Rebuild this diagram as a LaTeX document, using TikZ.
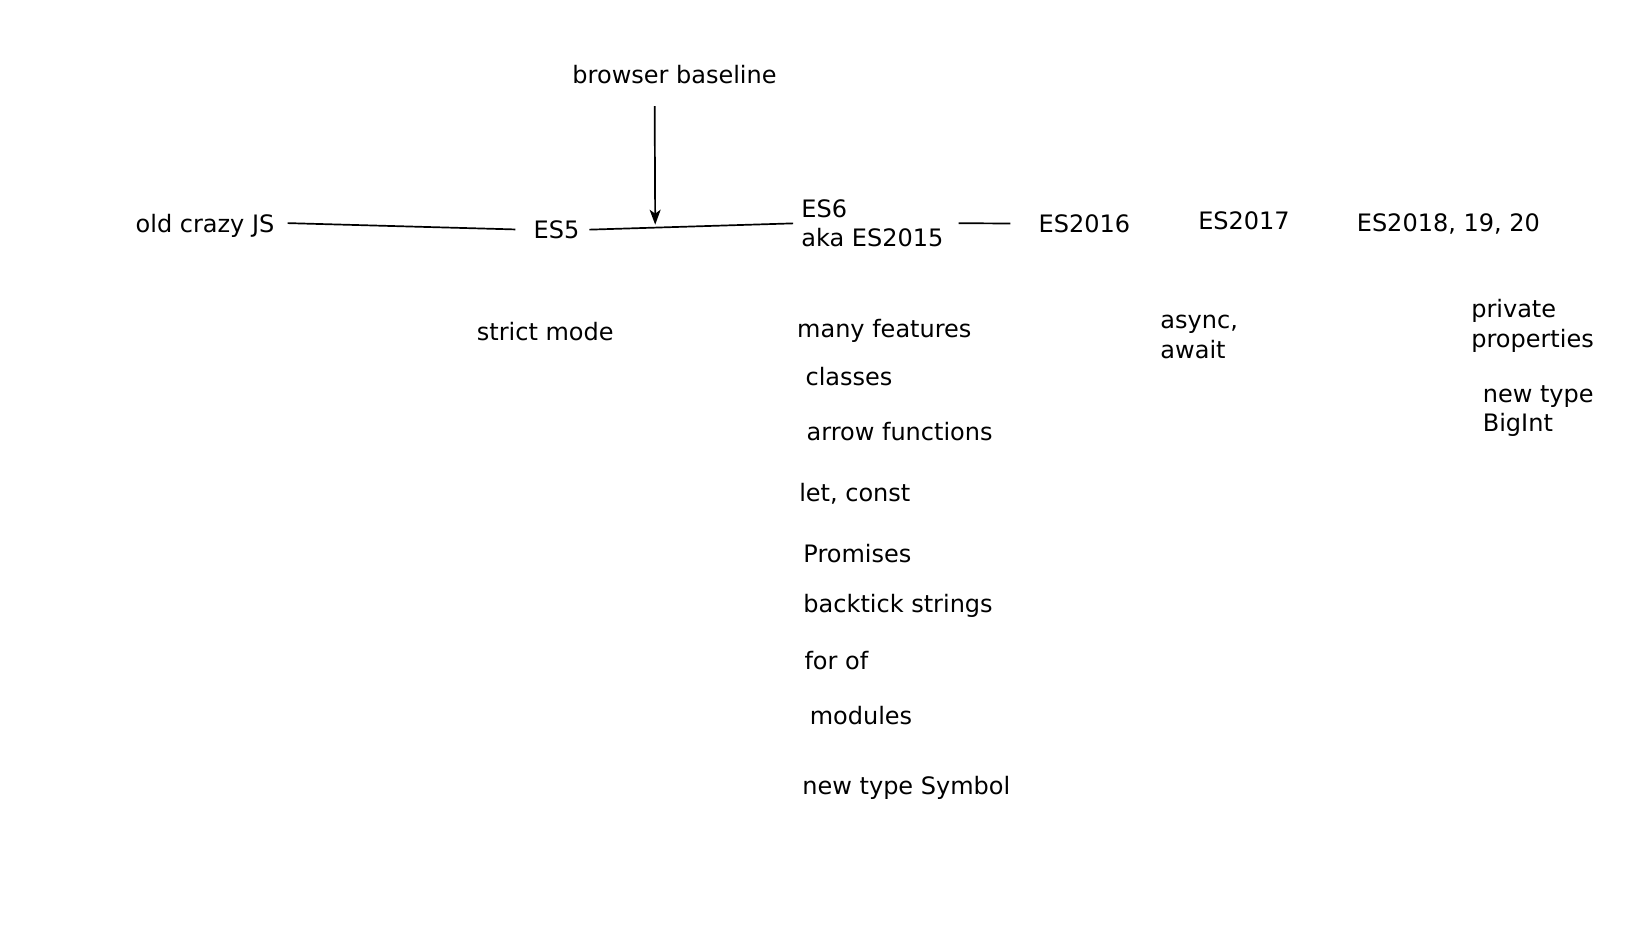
\documentclass[tikz,border=0pt]{standalone}
\usepackage{fontspec}
\setmainfont{DejaVu Sans}
\usetikzlibrary{arrows.meta,calc}

\begin{document}
\begin{tikzpicture}[x=1.05pt, y=-1.05pt,
	txt/.style = {anchor = west, inner sep = 0pt, align = left, font = \fontsize{24}{29.5}\selectfont},
	link/.style = {line width = 1.7pt}]
	\useasboundingbox (0,0) rectangle (1569.5,882.9);

	% timeline
	\node [txt] (base) at (545,71) {browser baseline};
	\node [txt] (old) at (129,215) {old crazy JS};
	\node [txt] (es5) at (508,219) {ES5};
	\node [txt] (es6) at (763,212.5) {ES6\\aka ES2015};
	\node [txt] (es16) at (989,213) {ES2016};
	\node [txt] (es17) at (1141,210) {ES2017};
	\node [txt] (es18) at (1292,213) {ES2018, 19, 20};

	\draw [link, shorten <= 13pt, shorten >= 18pt] ([yshift = 3pt]old.east) -- (es5.west);
	\draw [link, shorten <= 10pt, shorten >= 8pt] (es5.east) -- (es6.west);
	\draw [link, shorten <= 15pt, shorten >= 28pt] (es6.east) -- (es16.west);

	\coordinate (hit) at (624,214);
	\draw [link, -{Stealth[length = 15pt, width = 11pt, inset = 4pt]}, shorten <= 22pt] ([xshift = -20pt]base.south) -- (hit);

	% features
	\node [txt] (strict) at (454,316) {strict mode};

	\node [txt] (many) at (759,315) {many features};
	\node [txt] (classes) at (767,359) {classes};
	\node [txt] (arrowfn) at (768,411) {arrow functions};
	\node [txt] (letconst) at (761,470) {let, const};
	\node [txt] (promises) at (765,527) {Promises};
	\node [txt] (backtick) at (765,577) {backtick strings};
	\node [txt] (forof) at (766,629) {for of};
	\node [txt] (modules) at (771,681) {modules};
	\node [txt] (symbol) at (764,750) {new type Symbol};

	\node [txt] (async) at (1105,321) {async,\\await};

	\node [txt] (private) at (1401,310.5) {private\\properties};
	\node [txt] (bigint) at (1412,391.5) {new type\\BigInt};
\end{tikzpicture}
\end{document}
